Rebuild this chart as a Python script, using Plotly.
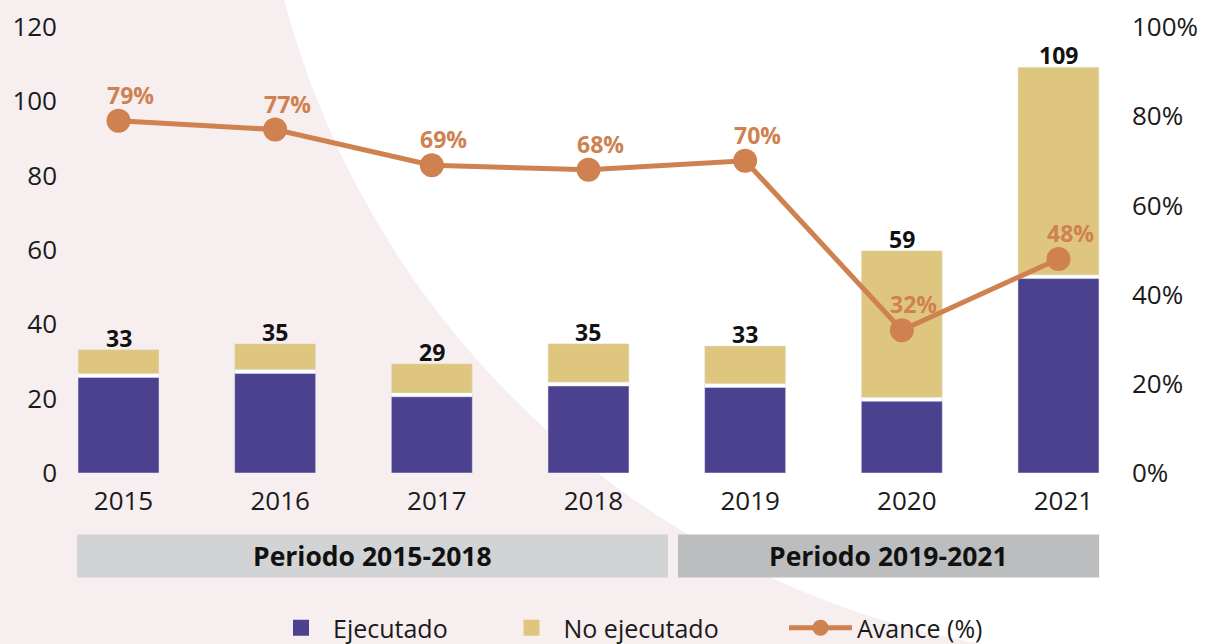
import plotly.graph_objects as go

# ---------------- data ----------------
years = ["2015", "2016", "2017", "2018", "2019", "2020", "2021"]
ejecutado = [26.2, 27.3, 21.0, 23.9, 23.5, 19.8, 52.8]
no_ejecutado = [7.0, 7.5, 8.4, 10.9, 10.7, 40.0, 56.4]
total_labels = ["33", "35", "29", "35", "33", "59", "109"]
avance = [79, 77, 69, 68, 70, 32, 48]
periods = ["Periodo 2015-2018", "Periodo 2019-2021"]
period_spans = [(-0.265, 3.507), (3.571, 6.26)]
left_ticks = [0, 20, 40, 60, 80, 100, 120]
right_ticks = [0, 20, 40, 60, 80, 100]
right_tick_text = ["0%", "20%", "40%", "60%", "80%", "100%"]

# ---------------- style ----------------
PURPLE = "#4b418e"
GOLD = "#dfc67f"
ORANGE = "#cf8150"
PINK = "#f7eeef"
BOX1 = "#d2d3d5"
BOX2 = "#bcbdbf"
TXT = "#1a1a1a"
FONT = "Open Sans"

W, H = 1210, 644
ML, MR, MT, MB = 70, 105, 27, 170.5
PW = W - ML - MR
PH = H - MT - MB
BW = 0.517
GAP = 1.0

def px_to_paper_x(px):
    return (px - ML) / PW

def px_to_paper_y(py):
    return (H - MB - py) / PH

tops = [e + n for e, n in zip(ejecutado, no_ejecutado)]
idx = list(range(len(years)))

fig = go.Figure()

fig.add_trace(go.Bar(x=years, y=ejecutado, marker_color=PURPLE, width=BW,
                     name="Ejecutado", showlegend=False, hoverinfo="skip"))
fig.add_trace(go.Bar(x=years, y=no_ejecutado, base=ejecutado, marker_color=GOLD,
                     width=BW, name="No ejecutado", showlegend=False, hoverinfo="skip"))
# thin white separator between the stacked segments
fig.add_trace(go.Bar(x=years, y=[GAP] * len(years), base=[e - GAP / 2 for e in ejecutado],
                     marker_color="white", width=BW, showlegend=False, hoverinfo="skip"))

fig.add_trace(go.Scatter(x=years, y=avance, yaxis="y2", mode="lines+markers",
                         line=dict(color=ORANGE, width=5),
                         marker=dict(color=ORANGE, size=24),
                         name="Avance (%)", showlegend=False, hoverinfo="skip"))

# legend entries (one legend each, so they can be placed like the reference)
fig.add_trace(go.Scatter(x=[None], y=[None], mode="markers",
                         marker=dict(symbol="square", color=PURPLE, size=22),
                         name="Ejecutado", legend="legend"))
fig.add_trace(go.Scatter(x=[None], y=[None], mode="markers",
                         marker=dict(symbol="square", color=GOLD, size=22),
                         name="No ejecutado", legend="legend2"))
fig.add_trace(go.Scatter(x=[None], y=[None], mode="lines+markers",
                         line=dict(color=ORANGE, width=5),
                         marker=dict(color=ORANGE, size=22),
                         name="Avance (%)", legend="legend3"))

annotations = []
for i, top, lab in zip(idx, tops, total_labels):
    annotations.append(dict(x=i, y=top, xref="x", yref="y", text=f"<b>{lab}</b>",
                            showarrow=False, xanchor="center", yanchor="middle", yshift=12,
                            font=dict(family=FONT, size=23, color="#111111")))
for i, a in zip(idx, avance):
    annotations.append(dict(x=i, y=a, xref="x", yref="y2", text=f"<b>{a}%</b>",
                            showarrow=False, xanchor="center", yanchor="middle",
                            yshift=26, xshift=12,
                            font=dict(family=FONT, size=23, color=ORANGE)))

shapes = [
    # white disc carving the pink background
    dict(type="circle", xref="paper", yref="paper", layer="below",
         x0=px_to_paper_x(1140 - 885), x1=px_to_paper_x(1140 + 885),
         y0=px_to_paper_y(-226 + 885), y1=px_to_paper_y(-226 - 885),
         fillcolor="white", line=dict(width=0)),
]
box_top, box_bot = px_to_paper_y(535), px_to_paper_y(578)
for (x0, x1), col, lab in zip(period_spans, [BOX1, BOX2], periods):
    shapes.append(dict(type="rect", xref="x", yref="paper", layer="below",
                       x0=x0, x1=x1, y0=box_bot, y1=box_top,
                       fillcolor=col, line=dict(width=0)))
    annotations.append(dict(x=(x0 + x1) / 2, y=(box_top + box_bot) / 2, xref="x", yref="paper",
                            text=f"<b>{lab}</b>", showarrow=False,
                            xanchor="center", yanchor="middle",
                            font=dict(family=FONT, size=26.5, color="#111111")))

def legend_at(px, iw):
    return dict(orientation="h", x=px / W, xref="container", xanchor="left",
                y=1 - 628 / H, yref="container", yanchor="middle",
                bgcolor="rgba(0,0,0,0)", borderwidth=0, itemwidth=iw,
                font=dict(family=FONT, size=25, color=TXT))

fig.update_layout(
    width=W, height=H,
    margin=dict(l=ML, r=MR, t=MT, b=MB, pad=0, autoexpand=False),
    paper_bgcolor=PINK, plot_bgcolor="rgba(0,0,0,0)",
    barmode="overlay",
    font=dict(family=FONT, size=26, color=TXT),
    xaxis=dict(type="category", range=[-0.3096, 6.297], showgrid=False, zeroline=False,
               showline=False, ticks="", tickfont=dict(size=26, color=TXT),
               ticklabelstandoff=10, ticklabelshift=5, automargin=False),
    yaxis=dict(range=[0, 120], tickvals=left_ticks, showgrid=False, zeroline=False,
               showline=False, ticks="", tickfont=dict(size=26, color=TXT),
               ticklabelstandoff=12, automargin=False),
    yaxis2=dict(range=[0, 100], tickvals=right_ticks, ticktext=right_tick_text,
                overlaying="y", side="right", showgrid=False, zeroline=False,
                showline=False, ticks="", tickfont=dict(size=26, color=TXT),
                ticklabelstandoff=26, automargin=False),
    legend=legend_at(269, 54),
    legend2=legend_at(499.5, 54),
    legend3=legend_at(784, 63),
    shapes=shapes, annotations=annotations,
)

fig.write_html("out.html", config={"displayModeBar": False},
               post_script="document.body.style.margin='0';")
